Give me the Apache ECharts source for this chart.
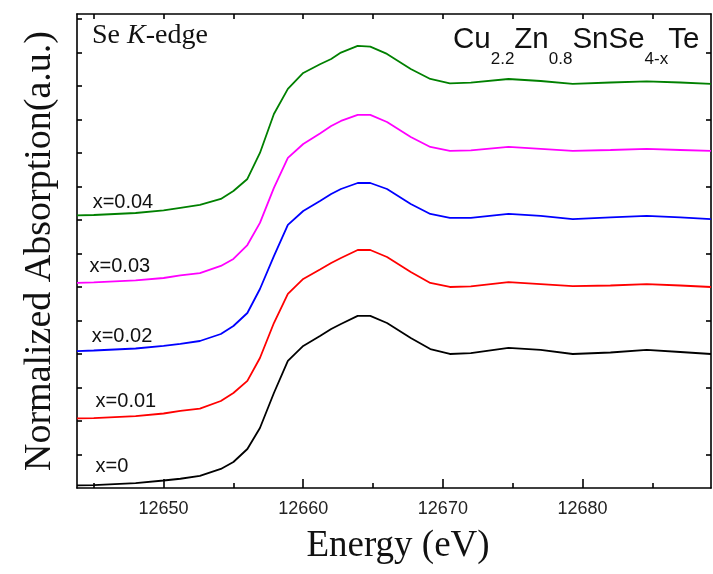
<!DOCTYPE html>
<html><head><meta charset="utf-8">
<script src="https://cdn.jsdelivr.net/npm/echarts@6/dist/echarts.min.js"></script>
<style>html,body{margin:0;padding:0;background:#fff}#c{width:713px;height:574px}</style>
</head><body><div id="c"></div>
<script>
// Energy grid (eV)
const energy = [12643.8, 12645, 12648, 12650, 12651.2, 12652.6, 12654.1, 12655, 12656, 12656.9, 12657.9, 12658.9, 12660, 12661.2, 12662, 12662.7, 12663.9, 12664.8, 12666, 12667.7, 12669.1, 12670.5, 12672, 12674.7, 12677, 12679.3, 12682, 12684.6, 12687, 12689.2];
// Normalized absorption (vertically stacked as plotted)
const absX0   = [0.019,0.022,0.037,0.056,0.069,0.090,0.142,0.194,0.291,0.448,0.709,0.948,1.060,1.134,1.187,1.224,1.284,1.284,1.231,1.119,1.037,1.000,1.007,1.045,1.030,1.000,1.011,1.030,1.015,1.000];
const absX001 = [0.519,0.522,0.537,0.556,0.575,0.593,0.649,0.709,0.799,0.970,1.231,1.448,1.560,1.631,1.679,1.716,1.776,1.776,1.724,1.612,1.530,1.500,1.504,1.537,1.522,1.507,1.511,1.522,1.511,1.500];
const absX002 = [1.022,1.026,1.041,1.060,1.075,1.097,1.149,1.209,1.306,1.485,1.731,1.963,2.067,2.142,2.194,2.231,2.276,2.276,2.231,2.119,2.045,2.015,2.015,2.045,2.030,2.007,2.019,2.030,2.019,2.007];
const absX003 = [1.530,1.534,1.549,1.567,1.586,1.604,1.657,1.709,1.813,1.978,2.239,2.463,2.567,2.646,2.701,2.739,2.784,2.784,2.731,2.619,2.545,2.515,2.519,2.545,2.530,2.515,2.522,2.530,2.522,2.515];
const absX004 = [2.034,2.037,2.052,2.071,2.090,2.112,2.157,2.216,2.306,2.500,2.791,2.978,3.097,3.162,3.201,3.249,3.299,3.293,3.239,3.127,3.052,3.020,3.025,3.052,3.037,3.015,3.026,3.034,3.026,3.015];
const seriesNames = ['x=0', 'x=0.01', 'x=0.02', 'x=0.03', 'x=0.04'];
const seriesColors = ['#000000', '#ff0000', '#0000ff', '#ff00ff', '#008000'];
const labelEnergy = [12645.13, 12645.13, 12644.85, 12644.7, 12644.92];
const labelValue = [0.160, 0.646, 1.131, 1.653, 2.13];
// Axis ticks
const xLabelTicks = [12650, 12660, 12670, 12680];
const xMinorTicks = [12645, 12655, 12665, 12675, 12685];
const xTopTicks = [12645, 12650, 12655, 12660, 12665, 12670, 12675, 12680, 12685];
const yLeftTicks = [0.25,0.5,0.75,1,1.25,1.5,1.75,2,2.25,2.5,2.75,3,3.25,3.5];
const yRightTicks = [0.25,0.75,1.25,1.75,2.25,2.75,3.25];
const formulaParts = [['Cu',0],['2.2',1],['Zn',0],['0.8',1],['SnSe',0],['4-x',1],['Te',0]];

const allValues = [absX0, absX001, absX002, absX003, absX004];
const X_MIN = 12643.8, X_MAX = 12689.2, Y_MIN = 0, Y_MAX = 3.537;
const SANS = '"Liberation Sans", Arial, sans-serif';
const SERIF = '"Liberation Serif", "Times New Roman", serif';

const chart = echarts.init(document.getElementById('c'), null, {renderer: 'canvas'});

const series = allValues.map((vals, k) => ({
  type: 'line',
  name: seriesNames[k],
  data: energy.map((e, i) => [e, vals[i]]),
  showSymbol: false,
  symbol: 'none',
  lineStyle: {color: seriesColors[k], width: 1.8},
  itemStyle: {color: seriesColors[k]},
  silent: true,
  markPoint: {
    symbol: 'circle', symbolSize: 0, silent: true,
    data: [{coord: [labelEnergy[k], labelValue[k]], value: seriesNames[k]}],
    label: {show: true, position: 'right', distance: 0, formatter: seriesNames[k],
      color: '#111', fontSize: 20, fontFamily: SANS}
  }
}));

// formula pieces
const ctx = document.createElement('canvas').getContext('2d');
const mainFont = '29.5px ' + SANS, subFont = '17px ' + SANS;
let cx = 453;
const formulaEls = formulaParts.map(([t, sub]) => {
  ctx.font = sub ? subFont : mainFont;
  const el = {type: 'text', x: cx, y: sub ? 59 : 40, silent: true,
    style: {text: t, font: sub ? subFont : mainFont, fill: '#111', align: 'left', verticalAlign: 'middle', textAlign: 'left', textVerticalAlign: 'middle'}};
  cx += ctx.measureText(t).width;
  return el;
});

const axisLineStyle = {color: '#000', width: 1.6};
chart.setOption({
  animation: false,
  backgroundColor: '#fff',
  grid: {left: 77, right: 2, top: 14, bottom: 86, containLabel: false},
  xAxis: [
    {type: 'value', min: X_MIN, max: X_MAX, position: 'bottom',
     axisLine: {show: true, onZero: false, lineStyle: axisLineStyle},
     axisTick: {show: true, inside: true, length: 9, customValues: xLabelTicks, lineStyle: axisLineStyle},
     axisLabel: {show: true, customValues: xLabelTicks, formatter: v => String(v), fontSize: 18, color: '#222', fontFamily: SANS, margin: 12},
     splitLine: {show: false},
     name: 'Energy (eV)', nameLocation: 'middle', nameGap: 40,
     nameTextStyle: {fontFamily: SERIF, fontSize: 37, color: '#111', padding: [0, 0, 0, 8]}},
    {type: 'value', min: X_MIN, max: X_MAX, position: 'bottom',
     axisLine: {show: false, onZero: false},
     axisTick: {show: true, inside: true, length: 5, customValues: xMinorTicks, lineStyle: axisLineStyle},
     axisLabel: {show: false}, splitLine: {show: false}},
    {type: 'value', min: X_MIN, max: X_MAX, position: 'top',
     axisLine: {show: true, onZero: false, lineStyle: axisLineStyle},
     axisTick: {show: true, inside: true, length: 5, customValues: xTopTicks, lineStyle: axisLineStyle},
     axisLabel: {show: false}, splitLine: {show: false}}
  ],
  yAxis: [
    {type: 'value', min: Y_MIN, max: Y_MAX, position: 'left',
     axisLine: {show: true, onZero: false, lineStyle: axisLineStyle},
     axisTick: {show: true, inside: true, length: 5, customValues: yLeftTicks, lineStyle: axisLineStyle},
     axisLabel: {show: false}, splitLine: {show: false},
     name: 'Normalized Absorption(a.u.)', nameLocation: 'middle', nameGap: 18,
     nameTextStyle: {fontFamily: SERIF, fontSize: 38, color: '#111'}},
    {type: 'value', min: Y_MIN, max: Y_MAX, position: 'right',
     axisLine: {show: true, onZero: false, lineStyle: axisLineStyle},
     axisTick: {show: true, inside: true, length: 5, customValues: yRightTicks, lineStyle: axisLineStyle},
     axisLabel: {show: false}, splitLine: {show: false}}
  ],
  graphic: [
    {type: 'text', x: 92, y: 36, silent: true,
     style: {text: '{a|Se }{b|K}{a|-edge}', verticalAlign: 'middle', textVerticalAlign: 'middle', fill: '#111',
       rich: {a: {fontFamily: SERIF, fontSize: 28, color: '#111'}, b: {fontFamily: SERIF, fontSize: 28, fontStyle: 'italic', color: '#111'}}}}
  ].concat(formulaEls),
  series: series
});
</script>
</body></html>
